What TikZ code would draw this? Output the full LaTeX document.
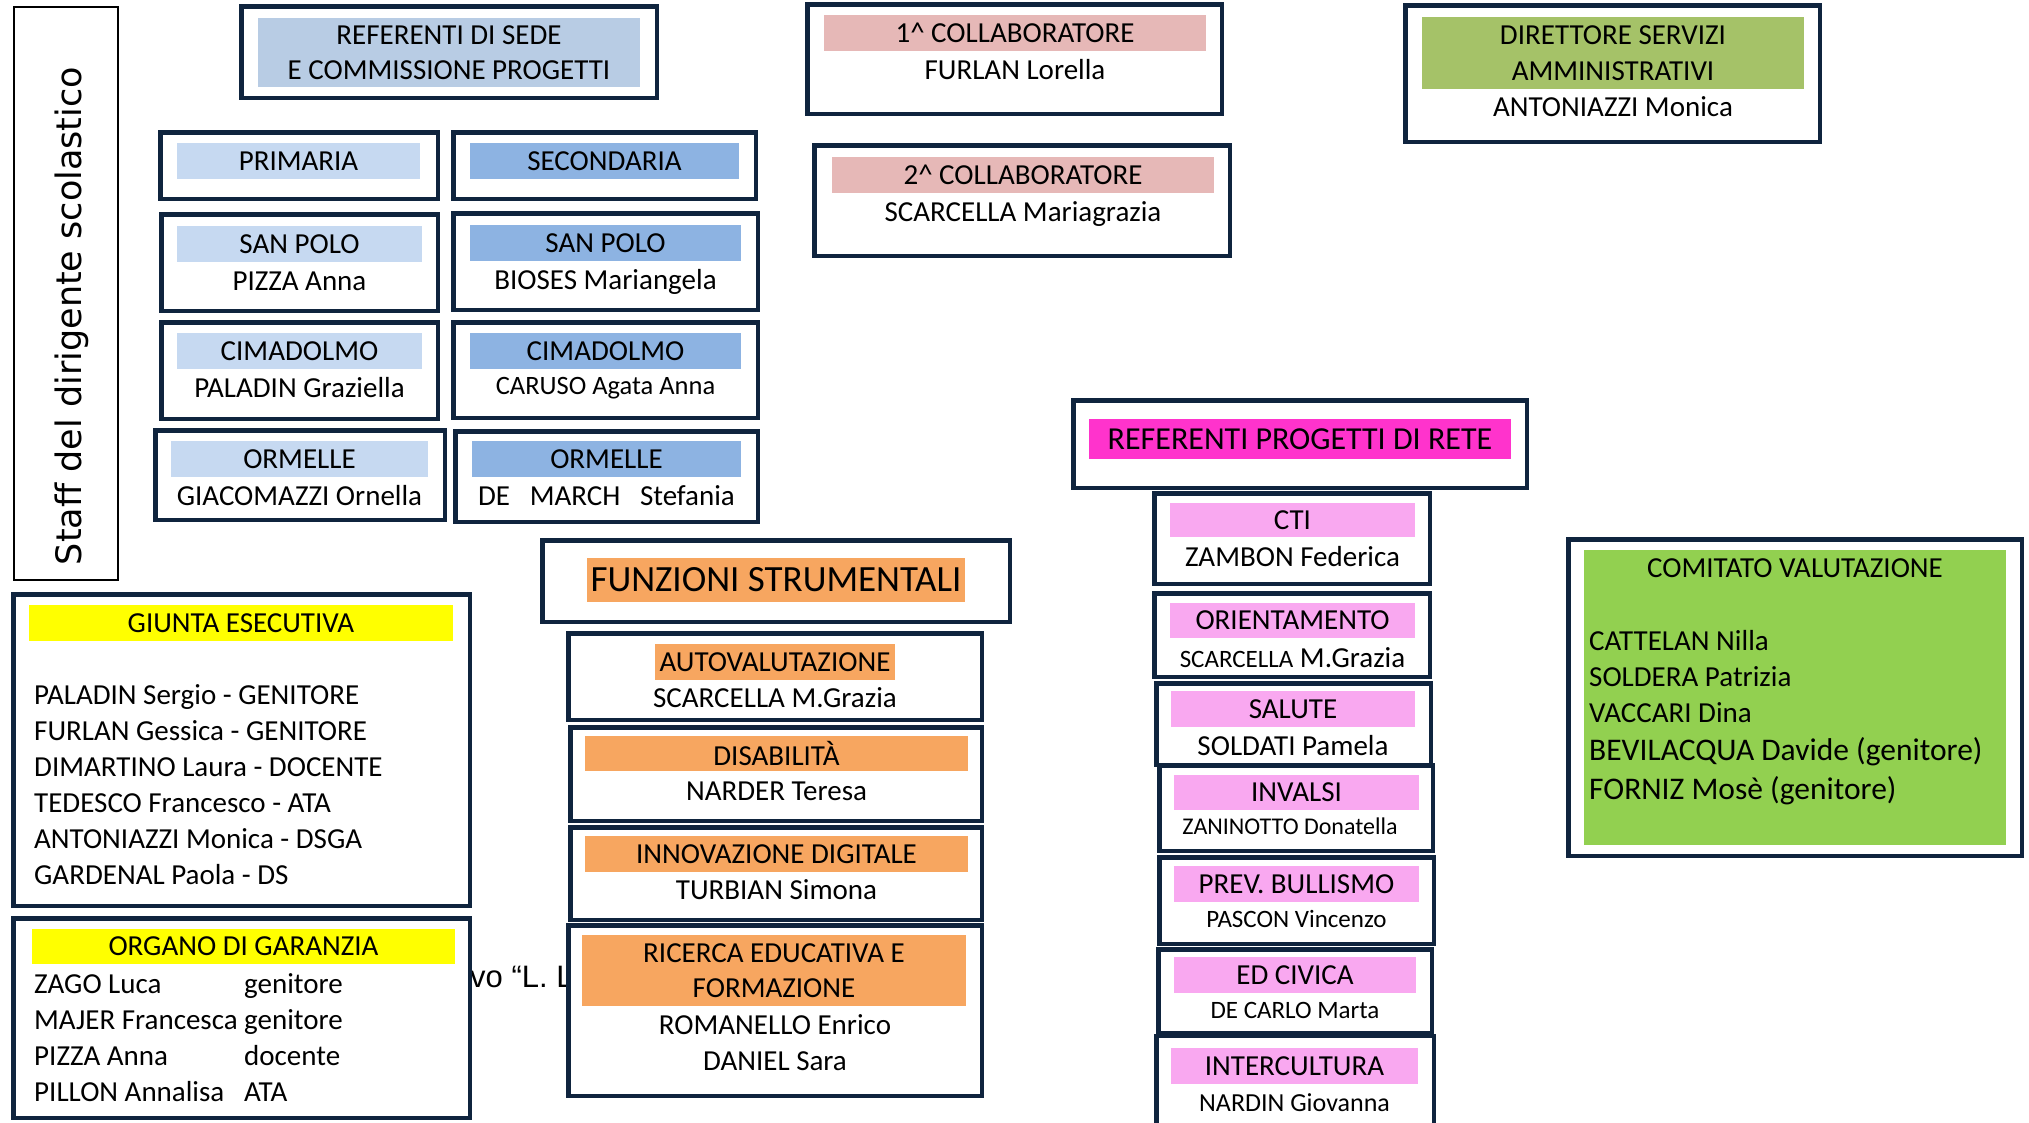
\documentclass[tikz,border=0pt]{standalone}
\usepackage{fontspec}
\setmainfont{Carlito}
\newfontfamily\stafffont{DejaVu Sans}
\newfontfamily\fondofont{Liberation Sans}
\usepackage{tikz}
\definecolor{bordo}{rgb}{0.059,0.141,0.243}
\definecolor{sedeBody}{rgb}{0.722,0.8,0.894}
\definecolor{primBody}{rgb}{0.776,0.851,0.945}
\definecolor{secBody}{rgb}{0.553,0.702,0.886}
\definecolor{collBody}{rgb}{0.902,0.722,0.718}
\definecolor{dsgaBody}{rgb}{0.647,0.761,0.408}
\definecolor{reteBody}{rgb}{1,0.2,0.8}
\definecolor{progBody}{rgb}{0.976,0.659,0.941}
\definecolor{funzBody}{rgb}{0.969,0.651,0.376}
\definecolor{giuntaBody}{rgb}{1,1,0}
\definecolor{comitatoBody}{rgb}{0.573,0.816,0.314}
\newcommand{\corpo}{\fontsize{29}{35.4}\selectfont}
\newcommand{\corpopiccolo}{\fontsize{25}{30.5}\selectfont}
\newcommand{\corpogrande}{\fontsize{32}{39}\selectfont}
\tikzstyle{ufficio} = [draw=bordo, line width=4.5pt, fill=white, inner sep=0pt]
\tikzstyle{testata} = [inner sep=0pt, font=\corpo, align=center]
\tikzstyle{nome} = [inner sep=0pt, font=\corpo, anchor=base]
\tikzstyle{elenco} = [nome, anchor=base west]

\begin{document}
\begin{tikzpicture}[x=1pt, y=-1pt]
    \clip (0,0) rectangle (2029,1122);
    \fill[white] (0,0) rectangle (2029,1122);
    % staff
    \node [draw=black, line width=2pt, minimum width=104, minimum height=573] (staff) at (66,293.5) {};
    \node [rotate=90, anchor=base, inner sep=0pt, font=\stafffont\fontsize{35}{42}\selectfont] (staffTesto) at (81,316) {Staff del dirigente scolastico};
    % testo sotto i riquadri
    \node [anchor=base west, inner sep=0pt, font=\fondofont\fontsize{31}{38}\selectfont] (fondoTesto) at (470,987) {vo “L. L};
    % referenti di sede
    \node [ufficio, minimum width=415.5, minimum height=91.5] (sede) at (449,52) {};
    \node [testata, fill=sedeBody, minimum width=382, minimum height=69] (sedeTit) at (449,52.5) {REFERENTI DI SEDE\\E COMMISSIONE PROGETTI};
    \node [ufficio, minimum width=277.5, minimum height=66.5] (prim) at (299,165.5) {};
    \node [testata, fill=primBody, minimum width=243, minimum height=36] (primTit) at (298.5,161) {PRIMARIA};
    \node [ufficio, minimum width=302.5, minimum height=66.5] (sec) at (604.5,165.5) {};
    \node [testata, fill=secBody, minimum width=269, minimum height=36] (secTit) at (604.5,161) {SECONDARIA};
    \node [ufficio, minimum width=276.5, minimum height=96.5] (polP) at (299.5,262.5) {};
    \node [testata, fill=primBody, minimum width=245, minimum height=36] (polPTit) at (299.5,244) {SAN POLO};
    \node [nome] (polPNome) at (299.5,290) {PIZZA Anna};
    \node [ufficio, minimum width=304.5, minimum height=96.5] (polS) at (605.5,261.5) {};
    \node [testata, fill=secBody, minimum width=271, minimum height=36] (polSTit) at (605.5,243) {SAN POLO};
    \node [nome] (polSNome) at (605.5,289) {BIOSES Mariangela};
    \node [ufficio, minimum width=276.5, minimum height=96.5] (cimP) at (299.5,370.5) {};
    \node [testata, fill=primBody, minimum width=245, minimum height=36] (cimPTit) at (299.5,351) {CIMADOLMO};
    \node [nome] (cimPNome) at (299.5,397) {PALADIN Graziella};
    \node [ufficio, minimum width=304.5, minimum height=95.5] (cimS) at (605.5,370) {};
    \node [testata, fill=secBody, minimum width=271, minimum height=36] (cimSTit) at (605.5,351) {CIMADOLMO};
    \node [nome, font=\fontsize{26.5}{32}\selectfont] (cimSNome) at (605.5,394) {CARUSO Agata Anna};
    \node [ufficio, minimum width=289.5, minimum height=89.5] (ormP) at (300,475) {};
    \node [testata, fill=primBody, minimum width=257, minimum height=36] (ormPTit) at (299.5,459) {ORMELLE};
    \node [nome] (ormPNome) at (299.5,505) {GIACOMAZZI Ornella};
    \node [ufficio, minimum width=302.5, minimum height=90.5] (ormS) at (606.5,476.5) {};
    \node [testata, fill=secBody, minimum width=269, minimum height=36] (ormSTit) at (606.5,459) {ORMELLE};
    \node [nome] (ormSNome) at (606.5,505) {DE~~~MARCH~~~Stefania};
    % collaboratori e dsga
    \node [ufficio, minimum width=414.5, minimum height=109.5] (coll1) at (1014.5,59) {};
    \node [testata, fill=collBody, minimum width=382, minimum height=36] (coll1Tit) at (1015,33) {1\textasciicircum{} COLLABORATORE};
    \node [nome] (coll1Nome) at (1015,79) {FURLAN Lorella};
    \node [ufficio, minimum width=415.5, minimum height=110.5] (coll2) at (1022,200.5) {};
    \node [testata, fill=collBody, minimum width=382, minimum height=36] (coll2Tit) at (1023,175) {2\textasciicircum{} COLLABORATORE};
    \node [nome] (coll2Nome) at (1023,221) {SCARCELLA Mariagrazia};
    \node [ufficio, minimum width=414.5, minimum height=136.5] (dsga) at (1612.5,73.5) {};
    \node [testata, fill=dsgaBody, minimum width=382, minimum height=72] (dsgaTit) at (1613,53) {DIRETTORE SERVIZI\\AMMINISTRATIVI};
    \node [nome] (dsgaNome) at (1613,116) {ANTONIAZZI Monica};
    % funzioni strumentali
    \node [ufficio, minimum width=467.5, minimum height=81.5] (funz) at (776,581) {};
    \node [testata, fill=funzBody, font=\fontsize{37}{45}\selectfont, minimum width=378, minimum height=44] (funzTit) at (776,580) {FUNZIONI STRUMENTALI};
    \node [ufficio, minimum width=413.5, minimum height=86.5] (auto) at (775,676.5) {};
    \node [testata, fill=funzBody, minimum width=240, minimum height=36] (autoTit) at (775,662) {AUTOVALUTAZIONE};
    \node [nome] (autoNome) at (775,707) {SCARCELLA M.Grazia};
    \node [ufficio, minimum width=411.5, minimum height=93.5] (disab) at (776,774) {};
    \node [testata, fill=funzBody, minimum width=383, minimum height=35] (disabTit) at (776.5,753.5) {DISABILITÀ};
    \node [nome] (disabNome) at (776.5,800) {NARDER Teresa};
    \node [ufficio, minimum width=411.5, minimum height=92.5] (innov) at (776,873.5) {};
    \node [testata, fill=funzBody, minimum width=383, minimum height=36] (innovTit) at (776.5,854) {INNOVAZIONE DIGITALE};
    \node [nome] (innovNome) at (776.5,899) {TURBIAN Simona};
    \node [ufficio, minimum width=413.5, minimum height=170.5] (ric) at (775,1010.5) {};
    \node [testata, fill=funzBody, minimum width=384, minimum height=71] (ricTit) at (774,970.5) {RICERCA EDUCATIVA E\\FORMAZIONE};
    \node [nome] (ricNome1) at (775,1034) {ROMANELLO Enrico};
    \node [nome] (ricNome2) at (775,1070) {DANIEL Sara};
    % giunta esecutiva
    \node [ufficio, minimum width=456.5, minimum height=311.5] (giunta) at (241.5,750) {};
    \node [testata, fill=giuntaBody, minimum width=424, minimum height=36] (giuntaTit) at (241,623) {GIUNTA ESECUTIVA};
    \foreach \riga [count=\i] in {PALADIN Sergio - GENITORE, FURLAN Gessica - GENITORE,
        DIMARTINO Laura - DOCENTE, TEDESCO Francesco - ATA,
        ANTONIAZZI Monica - DSGA, GARDENAL Paola - DS}
        \node [elenco] (giunta\i) at (34,668+36*\i) {\riga};
    % organo di garanzia
    \node [ufficio, minimum width=456.5, minimum height=199.5] (organo) at (241.5,1018) {};
    \node [testata, fill=giuntaBody, minimum width=423, minimum height=35] (organoTit) at (243.5,946.5) {ORGANO DI GARANZIA};
    \foreach \chi/\ruolo [count=\i] in {ZAGO Luca/genitore, MAJER Francesca/genitore,
        PIZZA Anna/docente, PILLON Annalisa/ATA} {
        \node [elenco] (organo\i) at (34,957+36*\i) {\chi};
        \node [elenco] (ruolo\i) at (244,957+36*\i) {\ruolo};
    }
    % progetti di rete
    \node [ufficio, minimum width=453.5, minimum height=87.5] (rete) at (1300,444) {};
    \node [testata, fill=reteBody, font=\corpogrande, minimum width=422, minimum height=40] (reteTit) at (1300,439) {REFERENTI PROGETTI DI RETE};
    \node [ufficio, minimum width=275.5, minimum height=90.5] (cti) at (1292,538.5) {};
    \node [testata, fill=progBody, minimum width=245, minimum height=34] (ctiTit) at (1292.5,520) {CTI};
    \node [nome] (ctiNome) at (1292.5,566) {ZAMBON Federica};
    \node [ufficio, minimum width=275.5, minimum height=83.5] (orient) at (1292,635) {};
    \node [testata, fill=progBody, minimum width=245, minimum height=35] (orientTit) at (1292.5,620.5) {ORIENTAMENTO};
    \node [nome] (orientNome) at (1292.5,667) {{\corpopiccolo SCARCELLA} M.Grazia};
    \node [ufficio, minimum width=274.5, minimum height=81.5] (salute) at (1293.5,724) {};
    \node [testata, fill=progBody, minimum width=244, minimum height=36] (saluteTit) at (1293,709) {SALUTE};
    \node [nome] (saluteNome) at (1293,755) {SOLDATI Pamela};
    \node [ufficio, minimum width=273.5, minimum height=85.5] (invalsi) at (1296,808) {};
    \node [testata, fill=progBody, minimum width=245, minimum height=35] (invalsiTit) at (1296.5,792.5) {INVALSI};
    \node [nome, font=\fontsize{24}{29}\selectfont] (invalsiNome) at (1290,834) {ZANINOTTO Donatella};
    \node [ufficio, minimum width=274.5, minimum height=86.5] (bull) at (1296.5,900.5) {};
    \node [testata, fill=progBody, minimum width=245, minimum height=36] (bullTit) at (1296.5,884) {PREV. BULLISMO};
    \node [nome, font=\corpopiccolo] (bullNome) at (1296.5,927) {PASCON Vincenzo};
    \node [ufficio, minimum width=273.5, minimum height=83.5] (civica) at (1295,991) {};
    \node [testata, fill=progBody, minimum width=242, minimum height=36] (civicaTit) at (1295,975) {ED CIVICA};
    \node [nome, font=\corpopiccolo] (civicaNome) at (1295,1018) {DE CARLO Marta};
    \node [ufficio, minimum width=277.5, minimum height=100] (inter) at (1295,1086) {};
    \node [testata, fill=progBody, minimum width=247, minimum height=36] (interTit) at (1294.5,1066) {INTERCULTURA};
    \node [nome, font=\fontsize{26}{32}\selectfont] (interNome) at (1294.5,1111) {NARDIN Giovanna};
    % comitato di valutazione
    \node [ufficio, minimum width=453.5, minimum height=316.5] (comitato) at (1795,697.5) {};
    \node [fill=comitatoBody, inner sep=0pt, minimum width=422, minimum height=295] (comitatoFondo) at (1795,697.5) {};
    \node [nome] (comitatoTit) at (1795,577) {COMITATO VALUTAZIONE};
    \node [elenco] (comitato1) at (1589,650) {CATTELAN Nilla};
    \node [elenco] (comitato2) at (1589,686) {SOLDERA Patrizia};
    \node [elenco] (comitato3) at (1589,722) {VACCARI Dina};
    \node [elenco, font=\fontsize{31.5}{38}\selectfont] (comitato4) at (1589,760) {BEVILACQUA Davide (genitore)};
    \node [elenco, font=\fontsize{31.5}{38}\selectfont] (comitato5) at (1589,799) {FORNIZ Mosè (genitore)};
\end{tikzpicture}
\end{document}
